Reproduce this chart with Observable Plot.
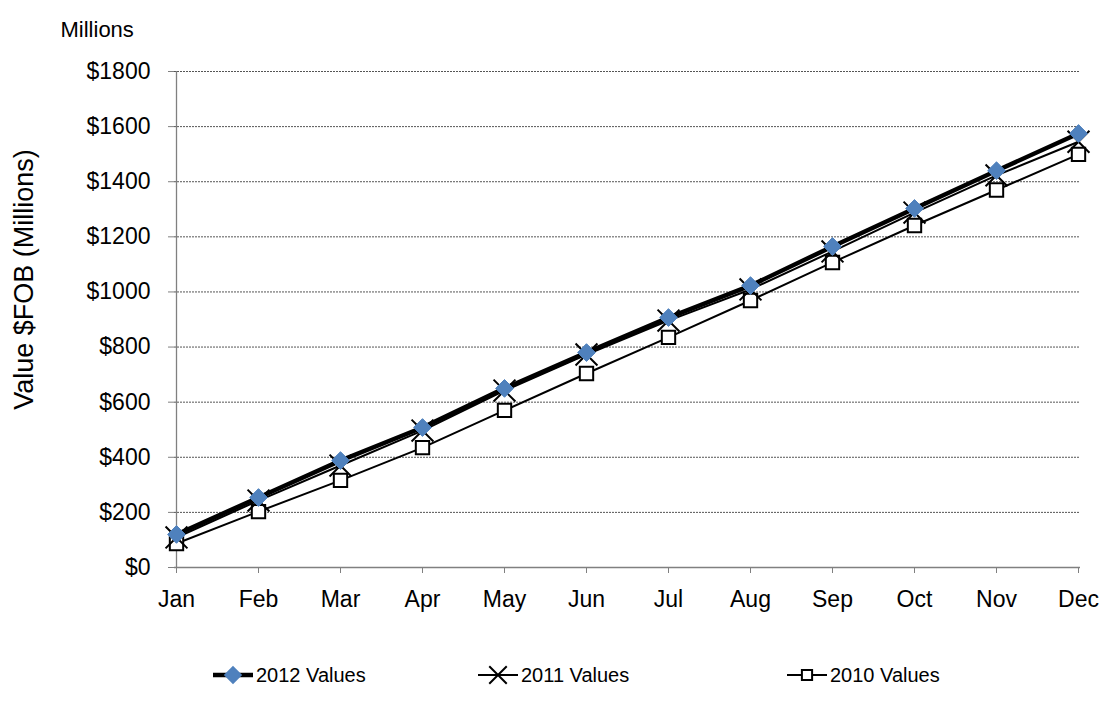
<!DOCTYPE html>
<html>
<head>
<meta charset="utf-8">
<script src="https://cdn.jsdelivr.net/npm/d3@7"></script>
<script src="https://cdn.jsdelivr.net/npm/@observablehq/plot@0.6"></script>
<style>
  body { margin: 0; background: #fff; font-family: "Liberation Sans", Arial, sans-serif; overflow: hidden; }
  #chart { width: 1104px; height: 640px; position: relative; }
  #chart svg { display: block; max-width: none !important; }
  #legend { display: block; }
</style>
</head>
<body>
<div id="chart"></div>
<div id="legend"></div>
<script>
const months = ["Jan","Feb","Mar","Apr","May","Jun","Jul","Aug","Sep","Oct","Nov","Dec"];
const seriesNames = ["2012 Values", "2011 Values", "2010 Values"];
const values2012 = [120, 254, 388, 508, 650, 780, 907, 1023, 1165, 1303, 1440, 1575];
const values2011 = [109, 243, 370, 497, 642, 773, 896, 1009, 1147, 1288, 1423, 1545];
const values2010 = [87, 203, 316, 435, 570, 704, 835, 969, 1107, 1241, 1370, 1499];
const yTicks = [0, 200, 400, 600, 800, 1000, 1200, 1400, 1600, 1800];
const yTitle = "Value $FOB (Millions)";
const unitLabel = "Millions";

const rows = [];
[values2012, values2011, values2010].forEach((arr, si) => {
  arr.forEach((v, i) => rows.push({series: seriesNames[si], month: months[i], value: v}));
});
const s12 = rows.filter(d => d.series === seriesNames[0]);
const s11 = rows.filter(d => d.series === seriesNames[1]);
const s10 = rows.filter(d => d.series === seriesNames[2]);

const FONT = "Liberation Sans, Arial, sans-serif";

const chart = Plot.plot({
  width: 1104,
  height: 640,
  marginTop: 71,
  marginBottom: 73,
  marginLeft: 174,
  marginRight: 24,
  style: {fontFamily: FONT, fontSize: "23px", color: "#000", background: "#fff", overflow: "visible"},
  x: {type: "point", domain: months, padding: 0},
  y: {domain: [0, 1800]},
  marks: [
    Plot.gridY(yTicks.filter(t => t > 0), {stroke: "#555", strokeOpacity: 1, strokeWidth: 1, strokeDasharray: "2,1"}),
    Plot.ruleX([months[0]], {stroke: "#808080", strokeWidth: 1.3}),
    Plot.ruleY([0], {stroke: "#808080", strokeWidth: 1.3}),
    Plot.axisY({ticks: yTicks, tickFormat: d => "$" + d, tickSize: 6, tickPadding: 18, stroke: "#808080",
      label: null, fontSize: 23}),
    Plot.axisX({ticks: months, tickSize: 6, tickPadding: 17, stroke: "#808080", label: null, fontSize: 23}),
    Plot.text([yTitle], {frameAnchor: "left", dx: -150, dy: -40, rotate: -90, textAnchor: "middle", fontSize: 27, fill: "#000"}),
    Plot.text([unitLabel], {frameAnchor: "top-left", dx: -114, dy: -50, textAnchor: "start", fontSize: 22, fill: "#000"}),
    Plot.line(s10, {x: "month", y: "value", stroke: "#000", strokeWidth: 2}),
    Plot.line(s11, {x: "month", y: "value", stroke: "#000", strokeWidth: 2}),
    Plot.line(s12, {x: "month", y: "value", stroke: "#000", strokeWidth: 4.5}),
    Plot.dot(s10, {x: "month", y: "value", symbol: "square2", r: 8.5, fill: "#fff", stroke: "#000", strokeWidth: 2}),
    Plot.dot(s11, {x: "month", y: "value", symbol: "times", r: 10, stroke: "#000", strokeWidth: 2}),
    Plot.dot(s12, {x: "month", y: "value", symbol: "diamond2", r: 8, fill: "#4F81BD", stroke: "#4F81BD", strokeWidth: 1})
  ]
});
document.getElementById("chart").appendChild(chart);

// Legend
const legendItems = [
  {name: seriesNames[0], x: 213, sym: "diamond2", r: 7, fill: "#4F81BD", stroke: "#4F81BD", lw: 4.5},
  {name: seriesNames[1], x: 478, sym: "times", r: 8, fill: "none", stroke: "#000", lw: 2},
  {name: seriesNames[2], x: 787, sym: "square2", r: 6.5, fill: "#fff", stroke: "#000", lw: 2}
];
const symMap = {diamond2: d3.symbolDiamond2, times: d3.symbolTimes, square2: d3.symbolSquare2};
const lsvg = d3.select("#legend").append("svg").attr("width", 1104).attr("height", 77);
legendItems.forEach(it => {
  const g = lsvg.append("g");
  const cy = 35;
  g.append("line").attr("x1", it.x).attr("x2", it.x + 40).attr("y1", cy).attr("y2", cy)
    .attr("stroke", "#000").attr("stroke-width", it.lw);
  g.append("path").attr("transform", `translate(${it.x + 20},${cy})`)
    .attr("d", d3.symbol(symMap[it.sym], Math.PI * it.r * it.r)())
    .attr("fill", it.fill).attr("stroke", it.stroke).attr("stroke-width", 2);
  g.append("text").attr("x", it.x + 43).attr("y", cy).attr("dy", "0.35em")
    .attr("font-family", FONT).attr("font-size", 20).text(it.name);
});
</script>
</body>
</html>
